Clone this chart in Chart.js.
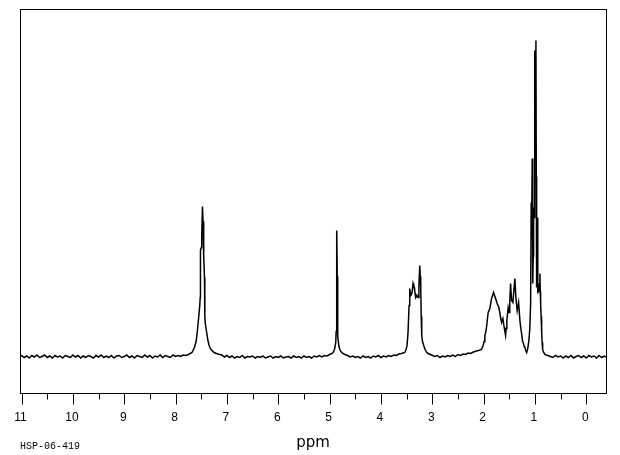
<!DOCTYPE html>
<html>
<head>
<meta charset="utf-8">
<title>HSP-06-419</title>
<script src="https://cdn.jsdelivr.net/npm/chart.js@4.4.1/dist/chart.umd.min.js"></script>
<style>
  html, body { margin: 0; padding: 0; background: #fff; }
  canvas { display: block; }
</style>
</head>
<body>
<canvas id="nmr" width="620" height="455"></canvas>
<script>
// chemical shift (ppm), left to right
const shift = [
  11.03, 11.00, 10.95, 10.90, 10.85, 10.80, 10.75, 10.70, 10.65, 10.60, 10.55,
  10.50, 10.45, 10.40, 10.35, 10.30, 10.25, 10.20, 10.15, 10.10, 10.05, 10.00,
  9.95, 9.90, 9.85, 9.80, 9.75, 9.70, 9.65, 9.60, 9.55, 9.50, 9.45,
  9.40, 9.35, 9.30, 9.25, 9.20, 9.15, 9.10, 9.05, 9.00, 8.95, 8.90,
  8.85, 8.80, 8.75, 8.70, 8.65, 8.60, 8.55, 8.50, 8.45, 8.40, 8.35,
  8.30, 8.25, 8.20, 8.15, 8.10, 8.05, 8.00, 7.95, 7.90, 7.85, 7.80,
  7.75, 7.68, 7.632, 7.60, 7.58, 7.55, 7.53, 7.52, 7.515, 7.50, 7.49,
  7.476, 7.465, 7.457, 7.447, 7.437, 7.43, 7.42, 7.40, 7.37, 7.34, 7.31, 7.25, 7.18, 7.10,
  7.05, 7.00, 6.95, 6.90, 6.85, 6.80, 6.75, 6.70, 6.65, 6.60, 6.55,
  6.50, 6.45, 6.40, 6.35, 6.30, 6.25, 6.20, 6.15, 6.10, 6.05, 6.00,
  5.95, 5.90, 5.85, 5.80, 5.75, 5.70, 5.65, 5.60, 5.55, 5.50, 5.45,
  5.40, 5.35, 5.30, 5.25, 5.20, 5.15, 5.10, 5.05, 5.00,
  4.95, 4.92, 4.90, 4.88, 4.872, 4.865, 4.857, 4.85, 4.845, 4.838, 4.82, 4.80, 4.78, 4.74, 4.70, 4.65,
  4.60, 4.55, 4.50, 4.45, 4.40, 4.35, 4.30, 4.25, 4.20, 4.15, 4.10,
  4.05, 4.00, 3.95, 3.90, 3.85, 3.80, 3.75, 3.70, 3.65, 3.60,
  3.536, 3.51, 3.491, 3.472, 3.452, 3.439, 3.429, 3.419, 3.405, 3.394, 3.374, 3.36,
  3.347, 3.335, 3.322, 3.296, 3.277, 3.26, 3.244, 3.234, 3.224, 3.215, 3.205, 3.19,
  3.166, 3.14, 3.113, 3.08, 3.015,
  2.95, 2.90, 2.85, 2.80, 2.75, 2.70, 2.65, 2.60, 2.55, 2.50, 2.45, 2.40, 2.35, 2.30, 2.25, 2.20,
  2.171, 2.10, 2.04,
  2.009, 1.99, 1.976, 1.96, 1.943, 1.925, 1.911, 1.878, 1.845, 1.825, 1.806, 1.787,
  1.767, 1.736, 1.703, 1.685, 1.670, 1.650, 1.625, 1.599, 1.585, 1.572, 1.56, 1.547,
  1.521, 1.502, 1.49, 1.475, 1.455, 1.430, 1.410, 1.391, 1.371, 1.346, 1.318, 1.293,
  1.275, 1.260, 1.240, 1.229, 1.21, 1.196, 1.18, 1.162, 1.14, 1.118, 1.10, 1.084,
  1.073, 1.065, 1.053, 1.045, 1.040, 1.033, 1.026, 1.014, 1.008, 1.001, 0.991, 0.981,
  0.974, 0.967, 0.956, 0.948, 0.942, 0.933, 0.923, 0.913, 0.903, 0.896, 0.889, 0.880,
  0.870, 0.86, 0.850, 0.83, 0.806, 0.78, 0.75,
  0.70, 0.65, 0.60, 0.55, 0.50, 0.45, 0.40, 0.35, 0.30, 0.25, 0.20, 0.15,
  0.10, 0.05, 0.00, -0.05, -0.10, -0.15, -0.20, -0.25, -0.30, -0.35, -0.384
];

// signal height above the baseline, same order as shift
const intensity = [
  0, 1, -1, 0.5, -1.5, 1, -0.5, 1.5, -1, 0, 1.5,
  -1, 0.5, -1.5, 1, -0.5, 0.5, -1.5, 1, 0, -1, 1.5,
  -0.5, 1, -1.5, 0.5, -1, 1, 0, -1.5, 1, -0.5, 1.5,
  -1, 0.5, -1, 1, -1.5, 0.5, 1, -1, 0, 1.5, -1,
  0.5, -1.5, 1, 0, -1, 1.5, -0.5, 1, -1.5, 0.5, -0.5,
  1.5, -1, 1, 0, -1, 1.5, 0, 1, 0, 1.5, 1,
  2, 4, 9, 15, 23, 39, 50, 59, 106, 109, 120,
  150, 135, 123, 100, 79, 40, 33, 26, 16, 10, 7, 4, 2.5, 1.5,
  -0.5, 1, -1, 0.5, -1.5, 0, -1, 1, -1.5, 0, -0.5,
  0.5, -1.5, 0, -1, 0.5, -1.5, -0.5, 0.5, -1.5, 0, -1,
  0.5, -1.5, -0.5, 0, -1.5, 0.5, -1, 0, -1.5, 0.5, -1,
  0, -1.5, 0.5, -0.5, 1, -0.5, 1, 0.5, 2,
  3, 5, 8, 14, 25, 90, 126, 80, 40, 20, 11, 7, 5, 3, 2, 1,
  -0.5, 0.5, -1, 0, -1.5, 0.5, -1, 0, -1.5, 0.5, -0.5,
  1, -1, 0.5, -0.5, 1, 0, 1.5, 1, 2.5, 3,
  4, 7, 11, 24, 51, 68, 64, 61, 62, 64, 73, 70,
  69, 63, 59, 61, 59, 70, 91, 80, 68, 40, 21, 15,
  11, 7, 4.5, 3, 1.5,
  0, 1, -1, 0.5, -0.5, 1, 0, 1.5, 0, 2, 1, 2.5, 2, 3.5, 3, 4.5,
  5, 6, 7,
  11, 15, 21, 24, 29, 38, 44, 48, 58, 61, 64, 61,
  58, 53, 49, 44, 39, 34, 38, 29, 25, 21, 28, 36,
  49, 44, 55, 73, 56, 54, 66, 78, 59, 46, 54, 36,
  28, 23, 15, 14, 10, 9, 6, 4, 8, 16, 28, 53,
  154, 120, 198, 120, 73, 100, 149, 139, 200, 306, 250, 316,
  180, 69, 139, 90, 63, 68, 73, 65, 83, 65, 53, 40,
  26, 14, 7, 4, 2, 1.5, 1,
  0, -1, 1, -0.5, 0.5, -1.5, 0.5, -1, 1, -1.5, 0, 1,
  -1, 0.5, -1.5, 1, -0.5, 0.5, -1.5, 1, -1, 0.5, -0.5
];

const majorTicks = [11, 10, 9, 8, 7, 6, 5, 4, 3, 2, 1, 0];
const minorTicks = [10.5, 9.5, 8.5, 7.5, 6.5, 5.5, 4.5, 3.5, 2.5, 1.5, 0.5];
const axisTitle = "ppm";
const sampleId = "HSP-06-419";

const points = shift.map((x, i) => ({ x: x, y: intensity[i] }));

// frame, ticks and labels drawn by hand, placed with the chart's own scales
const spectrumAxes = {
    id: "spectrumAxes",
    afterDraw(chart) {
        const ctx = chart.ctx;
        const area = chart.chartArea;
        const xs = chart.scales.x;

        ctx.save();
        ctx.strokeStyle = "#000";
        ctx.lineWidth = 1;
        ctx.strokeRect(Math.round(area.left) + 0.5, Math.round(area.top) + 0.5,
            Math.round(area.right - area.left), Math.round(area.bottom - area.top));

        const y0 = Math.round(area.bottom) + 0.5;
        ctx.beginPath();
        majorTicks.forEach(v => {
            const px = Math.round(xs.getPixelForValue(v)) + 0.5;
            ctx.moveTo(px, y0);
            ctx.lineTo(px, y0 + 11);
        });
        minorTicks.forEach(v => {
            const px = Math.round(xs.getPixelForValue(v)) + 0.5;
            ctx.moveTo(px, y0);
            ctx.lineTo(px, y0 + 6);
        });
        ctx.stroke();

        ctx.fillStyle = "#000";
        ctx.textAlign = "center";
        ctx.textBaseline = "alphabetic";
        ctx.font = "12px 'Liberation Sans'";
        majorTicks.forEach(v => {
            ctx.fillText(String(v), xs.getPixelForValue(v) - 1, 420.5);
        });

        ctx.font = "15px 'DejaVu Sans'";
        ctx.fillText(axisTitle, (area.left + area.right) / 2, 446.5);

        ctx.textAlign = "left";
        ctx.font = "10px 'Liberation Mono'";
        ctx.fillText(sampleId, 20, 448.5);
        ctx.restore();
    }
};

new Chart(document.getElementById("nmr").getContext("2d"), {
    type: "line",
    data: {
        datasets: [{
            data: points,
            borderColor: "#000",
            borderWidth: 1.5,
            pointRadius: 0,
            tension: 0,
            fill: false
        }]
    },
    options: {
        responsive: false,
        animation: false,
        devicePixelRatio: 1,
        layout: { padding: { left: 20, right: 14, top: 9, bottom: 62 } },
        plugins: {
            legend: { display: false },
            tooltip: { enabled: false }
        },
        scales: {
            x: { type: "linear", reverse: true, min: -0.384, max: 11.03, display: false },
            y: { type: "linear", min: -36.5, max: 347.5, display: false }
        }
    },
    plugins: [spectrumAxes]
});
</script>
</body>
</html>
